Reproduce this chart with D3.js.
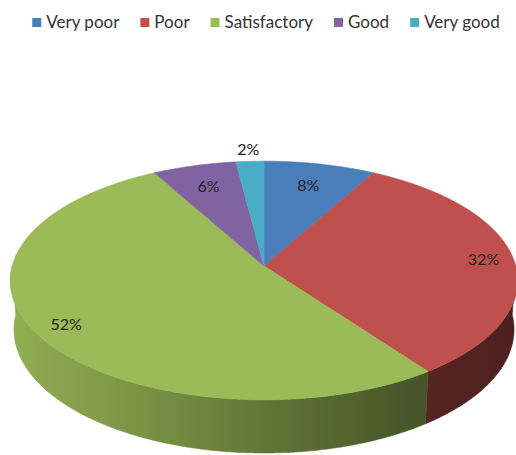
<!DOCTYPE html>
<html>
<head>
<meta charset="utf-8">
<script src="https://cdn.jsdelivr.net/npm/d3@7/dist/d3.min.js"></script>
<style>
  html, body { margin: 0; padding: 0; background: #ffffff; }
  svg { display: block; }
  text { font-family: Lato, "Open Sans", "Liberation Sans", sans-serif; }
</style>
</head>
<body>
<svg id="chart" width="516" height="455"></svg>
<script>
// Survey rating shares (percent)
const categories = ["Very poor", "Poor", "Satisfactory", "Good", "Very good"];
const percentages = [8, 32, 52, 6, 2];
const palette = ["#4a7ebb", "#c0504d", "#9bbb59", "#8064a2", "#4bacc6"];

const width = 516, height = 455;
const svg = d3.select("#chart");

const color = d3.scaleOrdinal().domain(categories).range(palette);

// ---- 3D pie projection (tilted disc seen in perspective) ----
const cx = 264, cy = 266;          // screen position of the disc centre
const elev = Math.asin(0.467);     // viewing elevation
const sinE = Math.sin(elev), cosE = Math.cos(elev);
const dist = 7.3;                  // camera distance, in radii
const focal = 1838;                // focal length, px
const thickness = 0.222;           // disc thickness, in radii

// angle a: clockwise from the far side (d3.pie convention); r: radius fraction; y: height
function project(a, r, y) {
  const X = r * Math.sin(a);
  const Z = -r * Math.cos(a);
  const d = dist - (Z * cosE + y * sinE);
  const u = y * cosE - Z * sinE;
  return [cx + focal * X / d, cy - focal * u / d];
}

const pie = d3.pie().sort(null).value(d => d.value)
  .startAngle(0).endAngle(2 * Math.PI);
const arcs = pie(categories.map((c, i) => ({ name: c, value: percentages[i] })));

const line = d3.line();
const step = Math.PI / 360;

function arcPoints(a0, a1, y) {
  const pts = [];
  const n = Math.max(2, Math.ceil((a1 - a0) / step));
  for (let i = 0; i <= n; i++) pts.push(project(a0 + (a1 - a0) * i / n, 1, y));
  return pts;
}

// ---- shading gradients for the outer wall ----
const defs = svg.append("defs");
const shadeStops = [[0, 0.93], [0.25, 0.79], [0.5, 0.63], [0.75, 0.48], [0.9, 0.42], [1, 0.40]];
palette.forEach((col, i) => {
  const g = defs.append("linearGradient")
    .attr("id", "wall" + i)
    .attr("gradientUnits", "userSpaceOnUse")
    .attr("x1", 11).attr("y1", 0).attr("x2", 516).attr("y2", 0);
  const base = d3.rgb(col);
  shadeStops.forEach(([o, f]) => {
    g.append("stop").attr("offset", o)
      .attr("stop-color", d3.rgb(base.r * f, base.g * f, base.b * f).formatHex());
  });
});

// ---- walls (front half only is visible) ----
const wallG = svg.append("g");
arcs.forEach((s, i) => {
  const a0 = Math.max(s.startAngle, Math.PI / 2);
  const a1 = Math.min(s.endAngle, 3 * Math.PI / 2);
  if (a1 <= a0) return;
  const top = arcPoints(a0, a1, 0);
  const bottom = arcPoints(a0, a1, -thickness).reverse();
  wallG.append("path")
    .attr("d", line(top.concat(bottom)) + "Z")
    .attr("fill", `url(#wall${i})`)
    .attr("stroke", `url(#wall${i})`)
    .attr("stroke-width", 0.6);
});

// ---- top faces ----
const topG = svg.append("g");
const centre = project(0, 0, 0);
arcs.forEach((s, i) => {
  const pts = [centre].concat(arcPoints(s.startAngle, s.endAngle, 0));
  topG.append("path")
    .attr("d", line(pts) + "Z")
    .attr("fill", color(s.data.name))
    .attr("stroke", color(s.data.name))
    .attr("stroke-width", 0.6)
    .attr("stroke-linejoin", "round");
});

// ---- data labels ----
const fontSize = 16, capH = 11.5;
const labelG = svg.append("g");
arcs.forEach(s => {
  const mid = (s.startAngle + s.endAngle) / 2;
  const t = labelG.append("text")
    .attr("text-anchor", "middle")
    .attr("font-size", fontSize)
    .attr("fill", "#222222")
    .text(s.data.value + "%");
  const w = t.node().getComputedTextLength();
  const rim = project(mid, 1, 0);
  let ux = centre[0] - rim[0], uy = centre[1] - rim[1];
  const len = Math.hypot(ux, uy);
  ux /= len; uy /= len;
  const extent = Math.abs(ux) * w / 2 + Math.abs(uy) * capH / 2;
  const inside = s.data.value >= 5;
  const L = inside ? extent + 14 : -(extent + 5);
  const px = rim[0] + ux * L, py = rim[1] + uy * L;
  t.attr("x", px).attr("y", py + capH / 2);
});

// ---- legend ----
const legend = svg.append("g");
const items = legend.selectAll("g").data(categories).join("g");
items.append("rect")
  .attr("width", 9).attr("height", 9)
  .attr("y", 18)
  .attr("fill", d => color(d));
items.append("text")
  .attr("x", 14).attr("y", 28)
  .attr("font-size", 17)
  .attr("fill", "#333333")
  .text(d => d);
let xPos = 0;
const positions = [];
items.each(function () {
  const tw = d3.select(this).select("text").node().getComputedTextLength();
  positions.push(xPos);
  xPos += 14 + tw + 21;
});
const total = xPos - 21;
const startX = 266 - total / 2;
items.attr("transform", (d, i) => `translate(${startX + positions[i]},0)`);
</script>
</body>
</html>
